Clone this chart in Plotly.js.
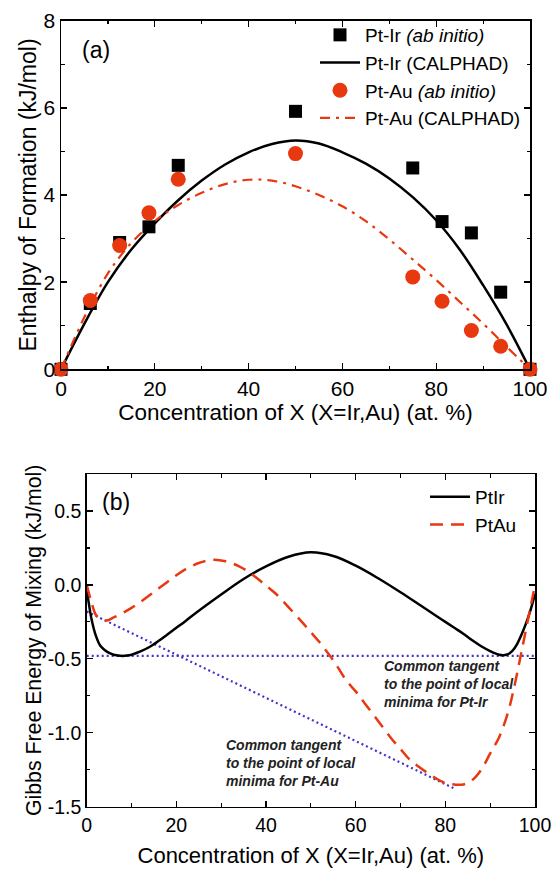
<!DOCTYPE html>
<html>
<head>
<meta charset="utf-8">
<script src="https://cdn.plot.ly/plotly-3.0.1.min.js"></script>
<style>html,body{margin:0;padding:0;background:#fff;}#plot{width:554px;height:869px;}</style>
</head>
<body>
<div id="plot"></div>
<script>
// ---- Panel (a): enthalpy of formation ----
const abX = [0, 6.25, 12.5, 18.75, 25, 50, 75, 81.25, 87.5, 93.75, 100];
const ptIrAb = [0, 1.51, 2.91, 3.27, 4.68, 5.92, 4.62, 3.39, 3.13, 1.77, 0];
const ptAuAb = [0, 1.58, 2.84, 3.59, 4.36, 4.95, 2.12, 1.56, 0.89, 0.53, 0];

const calX = [0, 5, 10, 15, 20, 25, 30, 35, 40, 45, 50, 55, 60, 65, 70, 75, 80, 85, 90, 95, 100];
const ptIrCal = [0, 1.05, 2.0, 2.75, 3.35, 3.88, 4.33, 4.7, 4.98, 5.17, 5.25, 5.18, 4.98, 4.72, 4.38, 3.95, 3.42, 2.75, 1.93, 1.03, 0];
const ptAuCal = [0, 1.2, 2.2, 2.9, 3.4, 3.77, 4.05, 4.25, 4.35, 4.33, 4.2, 4.0, 3.74, 3.4, 2.98, 2.52, 2.05, 1.55, 1.05, 0.52, 0];

// ---- Panel (b): Gibbs free energy of mixing ----
const irX = [0, 0.5, 1, 2, 3, 4, 5, 6, 8, 9, 10, 12, 14, 16, 18, 20, 22, 25, 30, 35, 40, 45, 50, 55, 60, 65, 70, 75, 78, 80, 82, 84, 86, 88, 90, 91, 92, 93, 94, 95, 96, 97, 98, 99, 100];
const irG = [-0.03, -0.13, -0.22, -0.34, -0.41, -0.44, -0.46, -0.472, -0.48, -0.478, -0.472, -0.45, -0.42, -0.38, -0.335, -0.29, -0.245, -0.175, -0.065, 0.04, 0.125, 0.19, 0.22, 0.195, 0.13, 0.045, -0.05, -0.15, -0.21, -0.25, -0.29, -0.33, -0.375, -0.415, -0.448, -0.462, -0.472, -0.475, -0.468, -0.445, -0.40, -0.335, -0.26, -0.17, -0.06];

const auX = [0, 1, 2, 3, 4.5, 6, 8, 10, 12, 14, 16, 18, 20, 22, 25, 28, 31, 34, 36, 38, 40, 42, 45, 48, 50, 52, 55, 58, 60, 62, 65, 68, 70, 72, 75, 78, 80, 82, 84, 86, 88, 90, 92, 94, 95, 96, 97, 98, 99, 100];
const auG = [0, -0.11, -0.2, -0.23, -0.24, -0.22, -0.19, -0.155, -0.115, -0.07, -0.025, 0.02, 0.065, 0.105, 0.148, 0.17, 0.16, 0.125, 0.09, 0.045, -0.005, -0.055, -0.15, -0.25, -0.32, -0.39, -0.51, -0.65, -0.72, -0.8, -0.92, -1.04, -1.11, -1.18, -1.25, -1.31, -1.34, -1.35, -1.35, -1.32, -1.25, -1.14, -1.03, -0.86, -0.74, -0.6, -0.45, -0.3, -0.15, 0];

const tanIrX = [0, 100];
const tanIrY = [-0.48, -0.48];
const tanAuX = [0, 82.2];
const tanAuY = [-0.18, -1.38];

const gTickVals = [-1.5, -1.0, -0.5, 0.0, 0.5];
const gTickText = ['-1.5', '-1.0', '-0.5', '0.0', '0.5'];

const RED = '#e8380f';
const BLUE = '#4b2fcc';
const FONT = 'Arial, "Liberation Sans", sans-serif';

const traces = [
  {x: calX, y: ptIrCal, mode: 'lines', name: 'Pt-Ir (CALPHAD)', line: {color: '#000', width: 2.5, shape: 'spline'},
   xaxis: 'x', yaxis: 'y', legend: 'legend', legendrank: 2, cliponaxis: false},
  {x: calX, y: ptAuCal, mode: 'lines', name: 'Pt-Au (CALPHAD)', line: {color: RED, width: 2.2, dash: '10px,6px,3px,6px', shape: 'spline'},
   xaxis: 'x', yaxis: 'y', legend: 'legend', legendrank: 4, cliponaxis: false},
  {x: abX, y: ptIrAb, mode: 'markers', name: 'Pt-Ir <i>(ab initio)</i>', marker: {symbol: 'square', color: '#000', size: 13},
   xaxis: 'x', yaxis: 'y', legend: 'legend', legendrank: 1, cliponaxis: false},
  {x: abX, y: ptAuAb, mode: 'markers', name: 'Pt-Au <i>(ab initio)</i>', marker: {symbol: 'circle', color: RED, size: 15},
   xaxis: 'x', yaxis: 'y', legend: 'legend', legendrank: 3, cliponaxis: false},

  {x: tanIrX, y: tanIrY, mode: 'lines', showlegend: false, line: {color: BLUE, width: 2.2, dash: '2px,3px'},
   xaxis: 'x2', yaxis: 'y2'},
  {x: tanAuX, y: tanAuY, mode: 'lines', showlegend: false, line: {color: BLUE, width: 2.2, dash: '2px,3px'},
   xaxis: 'x2', yaxis: 'y2'},
  {x: irX, y: irG, mode: 'lines', name: 'PtIr', line: {color: '#000', width: 2.5, shape: 'spline'},
   xaxis: 'x2', yaxis: 'y2', legend: 'legend2', legendrank: 1},
  {x: auX, y: auG, mode: 'lines', name: 'PtAu', line: {color: RED, width: 2.5, dash: '13px,8px', shape: 'spline'},
   xaxis: 'x2', yaxis: 'y2', legend: 'legend2', legendrank: 2}
];

const axBase = {
  showline: true, linecolor: '#000', linewidth: 1.5, mirror: 'ticks',
  ticks: 'inside', ticklen: 6, tickwidth: 1.3, tickcolor: '#000',
  showgrid: false, zeroline: false
};

const layout = {
  width: 554, height: 869,
  margin: {l: 0, r: 0, t: 0, b: 0},
  paper_bgcolor: '#fff', plot_bgcolor: '#fff',
  font: {family: FONT, color: '#000'},
  xaxis: Object.assign({}, axBase, {
    domain: [61/554, 530/554], range: [0, 100], dtick: 20, tick0: 0, anchor: 'y',
    tickfont: {family: FONT, size: 21, color: '#000'},
    minor: {dtick: 10, ticks: 'inside', ticklen: 3.5, tickcolor: '#000', tickwidth: 1.2},
    title: {text: 'Concentration of X (X=Ir,Au) (at. %)', font: {family: FONT, size: 22.5, color: '#000'}, standoff: 1}
  }),
  yaxis: Object.assign({}, axBase, {
    domain: [(869-369.3)/869, (869-20.7)/869], range: [0, 8], dtick: 2, tick0: 0, anchor: 'x',
    tickfont: {family: FONT, size: 21, color: '#000'},
    minor: {dtick: 1, ticks: 'inside', ticklen: 3.5, tickcolor: '#000', tickwidth: 1.2},
    title: {text: 'Enthalpy of Formation (kJ/mol)', font: {family: FONT, size: 23, color: '#000'}, standoff: 0}
  }),
  xaxis2: Object.assign({}, axBase, {
    domain: [86.7/554, 535/554], range: [0, 100], dtick: 20, tick0: 0, anchor: 'y2',
    tickfont: {family: FONT, size: 19.5, color: '#000'},
    minor: {dtick: 10, ticks: 'inside', ticklen: 3.5, tickcolor: '#000', tickwidth: 1.2},
    title: {text: 'Concentration of X (X=Ir,Au) (at. %)', font: {family: FONT, size: 22, color: '#000'}, standoff: 13}
  }),
  yaxis2: Object.assign({}, axBase, {
    domain: [(869-806.7)/869, (869-474)/869], range: [-1.5, 0.75], anchor: 'x2',
    tickfont: {family: FONT, size: 19.5, color: '#000'},
    tickmode: 'array', tickvals: gTickVals, ticktext: gTickText,
    minor: {dtick: 0.25, tick0: 0, ticks: 'inside', ticklen: 3.5, tickcolor: '#000', tickwidth: 1.2},
    title: {text: 'Gibbs Free Energy of Mixing (kJ/mol)', font: {family: FONT, size: 21.3, color: '#000'}, standoff: 0}
  }),
  legend: {
    x: 315/554, y: (869-16)/869, xanchor: 'left', yanchor: 'top',
    bgcolor: 'rgba(0,0,0,0)', borderwidth: 0, itemwidth: 40,
    font: {family: FONT, size: 19, color: '#000'}, traceorder: 'normal', tracegroupgap: 0
  },
  legend2: {
    x: 425/554, y: (869-478)/869, xanchor: 'left', yanchor: 'top',
    bgcolor: 'rgba(0,0,0,0)', borderwidth: 0, itemwidth: 40,
    font: {family: FONT, size: 19, color: '#000'}, traceorder: 'normal'
  },
  annotations: [
    {xref: 'x', yref: 'y', x: 4.05, y: 7.33, text: '(a)', showarrow: false, xanchor: 'left', yanchor: 'middle',
     font: {family: FONT, size: 23, color: '#000'}},
    {xref: 'x2', yref: 'y2', x: 2.97, y: 0.559, text: '(b)', showarrow: false, xanchor: 'left', yanchor: 'middle',
     font: {family: FONT, size: 23, color: '#000'}},
    {xref: 'x2', yref: 'y2', x: 65.8, y: -0.671, text: '<b><i>Common tangent<br>to the point of local<br>minima for Pt-Ir</i></b>',
     showarrow: false, xanchor: 'left', yanchor: 'middle', align: 'left',
     font: {family: FONT, size: 14, color: '#222'}},
    {xref: 'x2', yref: 'y2', x: 30.6, y: -1.204, text: '<b><i>Common tangent<br>to the point of local<br>minima for Pt-Au</i></b>',
     showarrow: false, xanchor: 'left', yanchor: 'middle', align: 'left',
     font: {family: FONT, size: 14, color: '#222'}}
  ],
  showlegend: true
};

Plotly.newPlot('plot', traces, layout, {staticPlot: true, displayModeBar: false});
</script>
</body>
</html>
